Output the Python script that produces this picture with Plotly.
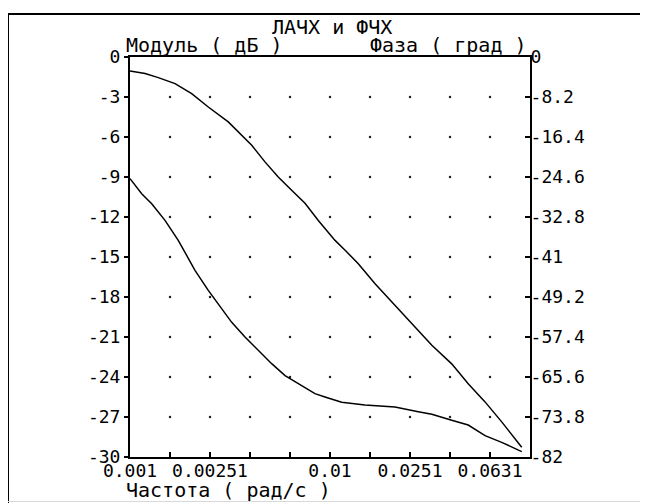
import plotly.graph_objects as go

# ---- data ----
phase_freq = [0.001, 0.00119, 0.001385, 0.00168, 0.002034, 0.002463, 0.0031, 0.00362,
              0.00406, 0.00473, 0.00551, 0.00643, 0.0075, 0.00874, 0.0106, 0.0119,
              0.01385, 0.0168, 0.02034, 0.0256, 0.0323, 0.0406, 0.0491, 0.0596,
              0.0722, 0.0909]
phase_deg = [-2.87, -3.40, -4.22, -5.45, -7.50, -10.25, -13.3, -16.05,
             -18.1, -21.5, -24.6, -27.3, -30.0, -33.5, -37.6, -39.6,
             -42.4, -46.5, -50.2, -54.7, -59.1, -62.9, -67.0, -70.7,
             -74.8, -80.0]

mag_freq = [0.001, 0.001144, 0.001284, 0.001496, 0.001743, 0.001956, 0.002113,
            0.002463, 0.002873, 0.003225, 0.003758, 0.00438, 0.00511, 0.00596,
            0.00694, 0.00841, 0.00944, 0.01144, 0.01496, 0.02113, 0.02763,
            0.0323, 0.0406, 0.0491, 0.0596, 0.0722, 0.0909]
mag_db = [-9.12, -10.25, -11.0, -12.25, -13.75, -15.1, -16.0,
          -17.5, -18.9, -19.9, -21.0, -22.0, -23.0, -23.9,
          -24.5, -25.25, -25.5, -25.9, -26.1, -26.25, -26.6,
          -26.8, -27.25, -27.6, -28.4, -28.9, -29.6]

x_tick_vals = [0.001, 0.001585, 0.002512, 0.003981, 0.00631, 0.01, 0.01585,
               0.02512, 0.03981, 0.0631, 0.1]
x_tick_text = ["0.001", "", "0.00251", "", "", "0.01", "", "0.0251", "", "0.0631", ""]

y_tick_vals = [0, -3, -6, -9, -12, -15, -18, -21, -24, -27, -30]
y_tick_text = ["0", "-3", "-6", "-9", "-12", "-15", "-18", "-21", "-24", "-27", "-30"]

y2_tick_vals = [0, -8.2, -16.4, -24.6, -32.8, -41, -49.2, -57.4, -65.6, -73.8, -82]
y2_tick_text = ["0", "-8.2", "-16.4", "-24.6", "-32.8", "-41", "-49.2", "-57.4",
                "-65.6", "-73.8", "-82"]

title_text = "ЛАЧХ и ФЧХ"
y_label = "Модуль ( дБ )"
y2_label = "Фаза ( град )"
x_label = "Частота ( рад/с )"

MONO = "DejaVu Sans Mono"

fig = go.Figure()

# grid dots at interior tick intersections
gx, gy = [], []
for xv in x_tick_vals[1:-1]:
    for yv in y_tick_vals[1:-1]:
        gx.append(xv)
        gy.append(yv)
fig.add_trace(go.Scatter(x=gx, y=gy, mode="markers",
                         marker=dict(size=2.5, color="#222222"),
                         hoverinfo="skip", showlegend=False))

fig.add_trace(go.Scatter(x=mag_freq, y=mag_db, mode="lines",
                         line=dict(color="black", width=1.5),
                         showlegend=False, yaxis="y"))
fig.add_trace(go.Scatter(x=phase_freq, y=phase_deg, mode="lines",
                         line=dict(color="black", width=1.5),
                         showlegend=False, yaxis="y2"))

# page has an 8px body margin: figure is placed at (8, 8)
OFF = 8
W, H = 640, 495
L, T = 122, 49
R = W - L - 400
B = H - T - 400
PW, PH = W - L - R, H - T - B


def px(xp):  # page pixel -> paper x
    return (xp - OFF - L) / PW


def py(yp):  # page pixel -> paper y
    return (H - B - (yp - OFF)) / PH


fig.update_layout(
    width=W, height=H,
    margin=dict(l=L, r=R, t=T, b=B, pad=0),
    paper_bgcolor="white", plot_bgcolor="white",
    font=dict(family=MONO, size=18, color="black"),
    showlegend=False,
    xaxis=dict(type="log", range=[-3, -1], tickvals=x_tick_vals, ticktext=x_tick_text,
               ticks="inside", ticklen=5, tickwidth=1.5, tickcolor="black",
               ticklabelstandoff=-4,
               showline=True, linecolor="black", linewidth=2, mirror=True,
               showgrid=False, zeroline=False,
               tickfont=dict(family=MONO, size=18, color="black")),
    yaxis=dict(range=[-30, 0], tickvals=y_tick_vals, ticktext=y_tick_text,
               ticks="outside", ticklen=4, tickwidth=1.5, tickcolor="black",
               showline=True, linecolor="black", linewidth=2,
               showgrid=False, zeroline=False,
               tickfont=dict(family=MONO, size=18, color="black")),
    yaxis2=dict(range=[-82, 0], tickvals=y2_tick_vals, ticktext=y2_tick_text,
                overlaying="y", side="right",
                ticks="inside", ticklen=5, tickwidth=1.5, tickcolor="black",
                ticklabelstandoff=-5,
                showline=True, linecolor="black", linewidth=2,
                showgrid=False, zeroline=False,
                tickfont=dict(family=MONO, size=18, color="black")),
)

ann_font = dict(family=MONO, size=20, color="black")
fig.add_annotation(text=title_text, xref="paper", yref="paper", x=px(332), y=py(27),
                   xanchor="center", yanchor="middle", showarrow=False, font=ann_font)
fig.add_annotation(text=y_label, xref="paper", yref="paper", x=px(124), y=py(45),
                   xanchor="left", yanchor="middle", showarrow=False, font=ann_font)
fig.add_annotation(text=y2_label, xref="paper", yref="paper", x=px(529), y=py(45),
                   xanchor="right", yanchor="middle", showarrow=False, font=ann_font)
fig.add_annotation(text=x_label, xref="paper", yref="paper", x=px(124), y=py(490),
                   xanchor="left", yanchor="middle", showarrow=False, font=ann_font)

# outer frame
fig.add_shape(type="line", xref="paper", yref="paper", x0=px(8), x1=px(8),
              y0=py(13), y1=py(503), line=dict(color="black", width=2))
fig.add_shape(type="line", xref="paper", yref="paper", x0=px(8), x1=px(648),
              y0=py(14), y1=py(14), line=dict(color="black", width=2))
fig.add_shape(type="line", xref="paper", yref="paper", x0=px(646.5), x1=px(646.5),
              y0=py(14), y1=py(503), line=dict(color="black", width=1))
fig.add_shape(type="line", xref="paper", yref="paper", x0=px(8), x1=px(648),
              y0=py(501.5), y1=py(501.5), line=dict(color="#d8d8d8", width=1))

fig.write_html("out.html")
